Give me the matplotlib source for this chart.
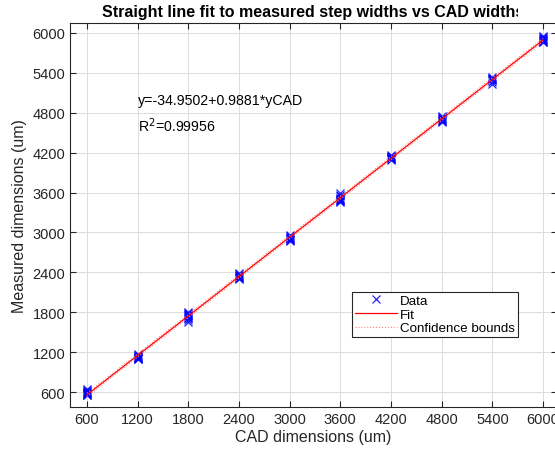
import numpy as np
import matplotlib
matplotlib.use("Agg")
import matplotlib.pyplot as plt
from matplotlib.transforms import Bbox

plt.rcParams['font.family'] = ['Liberation Sans', 'DejaVu Sans']

# CAD widths (um) and measured widths at each step
cad = [600, 1200, 1800, 2400, 3000, 3600, 4200, 4800, 5400, 6000]
measured = [
    [555, 560, 565, 575, 580, 585, 595, 605, 620, 635, 650],
    [1095, 1100, 1105, 1110, 1115, 1120, 1125, 1135, 1150, 1165],
    [1660, 1690, 1710, 1720, 1730, 1745, 1755, 1760, 1775, 1790, 1805],
    [2300, 2310, 2320, 2335, 2345, 2350, 2365, 2380, 2395],
    [2870, 2880, 2890, 2905, 2915, 2920, 2935, 2950, 2965],
    [3460, 3470, 3475, 3490, 3500, 3510, 3525, 3545, 3570, 3590],
    [4090, 4100, 4105, 4115, 4125, 4135, 4140, 4155, 4170],
    [4660, 4670, 4675, 4690, 4700, 4705, 4720, 4735, 4755],
    [5230, 5270, 5290, 5300, 5305, 5315, 5330, 5345],
    [5860, 5870, 5875, 5890, 5900, 5905, 5920, 5935, 5950],
]
b0 = -34.9502
b1 = 0.9881
r2 = 0.99956
ci = 25

xs = np.concatenate([[c] * len(m) for c, m in zip(cad, measured)])
ys = np.concatenate(measured)

fig = plt.figure(figsize=(5.55, 4.52), dpi=100)
ax = fig.add_axes([70 / 555, 44 / 452, 487 / 555, 384 / 452])

xf = np.linspace(cad[0], cad[-1], 50)
yf = b0 + b1 * xf
ax.plot(xs, ys, 'x', color='blue', ms=6, mew=0.9, alpha=0.85, label='Data')
ax.plot(xf, yf, '-', color='red', lw=0.9, label='Fit')
ax.plot(xf, yf + ci, ':', color='#ff8080', lw=0.8, label='Confidence bounds')
ax.plot(xf, yf - ci, ':', color='#ff8080', lw=0.8)

ax.set_xlim(400, 6165)
ax.set_ylim(375, 6150)
ax.set_xticks(cad)
ax.set_yticks(np.arange(600, 6001, 600))
ax.tick_params(direction='in', top=True, right=True, labelsize=10.5,
               color='#262626', labelcolor='#262626', length=4)
for s in ax.spines.values():
    s.set_color('#262626')
    s.set_linewidth(0.8)
ax.grid(True, color='#dcdcdc', lw=0.7)
ax.set_axisbelow(True)

ax.set_xlabel('CAD dimensions (um)', fontsize=11.5, color='#262626', labelpad=2)
ax.set_ylabel('Measured dimensions (um)', fontsize=11.5, color='#262626', labelpad=4)
t = ax.set_title('Straight line fit to measured step widths vs CAD widths',
                 fontsize=11.5, fontweight='bold', pad=5)
t.set_clip_on(True)
t.set_clip_box(Bbox([[0, 0], [518, 452]]))

ax.text(1200, 4990, 'y=%.4f+%.4f*yCAD' % (b0, b1), fontsize=10.2, va='center')
ax.text(1200, 4620, 'R$^2$=%.5f' % r2, fontsize=10.2, va='center')

leg = ax.legend(loc='lower left', bbox_to_anchor=(0.579, 0.182),
                fontsize=9.6, fancybox=False, framealpha=1,
                edgecolor='#262626', borderpad=0.2, labelspacing=0.12,
                handlelength=3.2, handletextpad=0.2, borderaxespad=0)
leg.get_frame().set_linewidth(0.8)

fig.savefig('out.png', dpi=100)
